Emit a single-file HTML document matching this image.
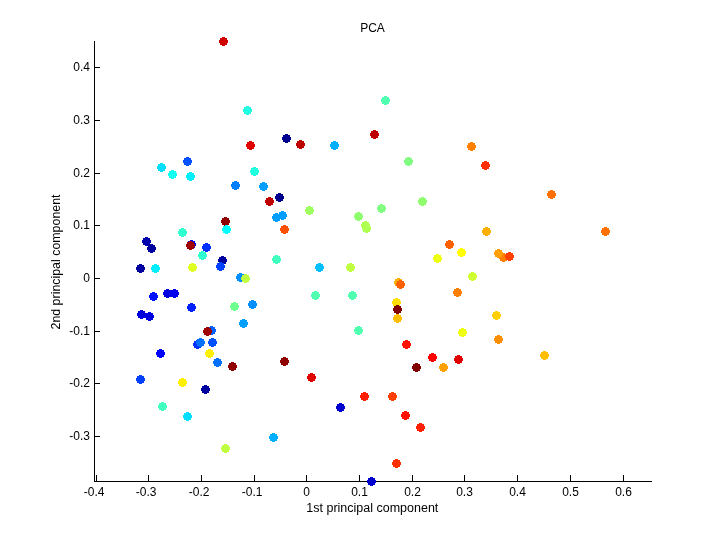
<!DOCTYPE html>
<html><head><meta charset="utf-8"><title>PCA</title>
<style>
html,body{margin:0;padding:0;background:#fff;}
body{width:720px;height:540px;overflow:hidden;}
svg{display:block;}
text{font-family:"Liberation Sans",sans-serif;font-size:12px;fill:#000;}
</style></head><body>
<svg width="720" height="540" viewBox="0 0 720 540">
<defs><g id="d" shape-rendering="crispEdges"><rect x="-4" y="-1" width="9" height="3"/><rect x="-3" y="-3" width="7" height="7"/><rect x="-1" y="-4" width="3" height="9"/></g></defs>
<rect width="720" height="540" fill="#fff"/>

<g shape-rendering="crispEdges" fill="#000">
<rect x="94" y="41" width="1" height="441"/>
<rect x="94" y="481" width="558" height="1"/>
<rect x="96" y="475" width="1" height="6"/>
<rect x="148" y="475" width="1" height="6"/>
<rect x="201" y="475" width="1" height="6"/>
<rect x="254" y="475" width="1" height="6"/>
<rect x="306" y="475" width="1" height="6"/>
<rect x="359" y="475" width="1" height="6"/>
<rect x="412" y="475" width="1" height="6"/>
<rect x="464" y="475" width="1" height="6"/>
<rect x="517" y="475" width="1" height="6"/>
<rect x="570" y="475" width="1" height="6"/>
<rect x="623" y="475" width="1" height="6"/>
<rect x="95" y="67" width="5" height="1"/>
<rect x="95" y="120" width="5" height="1"/>
<rect x="95" y="173" width="5" height="1"/>
<rect x="95" y="225" width="5" height="1"/>
<rect x="95" y="278" width="5" height="1"/>
<rect x="95" y="331" width="5" height="1"/>
<rect x="95" y="383" width="5" height="1"/>
<rect x="95" y="436" width="5" height="1"/>
</g>
<text x="94.1" y="496" text-anchor="middle">-0.4</text>
<text x="146.1" y="496" text-anchor="middle">-0.3</text>
<text x="199.1" y="496" text-anchor="middle">-0.2</text>
<text x="252.1" y="496" text-anchor="middle">-0.1</text>
<text x="306.5" y="496" text-anchor="middle">0</text>
<text x="359.5" y="496" text-anchor="middle">0.1</text>
<text x="412.5" y="496" text-anchor="middle">0.2</text>
<text x="464.5" y="496" text-anchor="middle">0.3</text>
<text x="517.5" y="496" text-anchor="middle">0.4</text>
<text x="570.5" y="496" text-anchor="middle">0.5</text>
<text x="623.5" y="496" text-anchor="middle">0.6</text>
<text x="90" y="71" text-anchor="end">0.4</text>
<text x="90" y="124" text-anchor="end">0.3</text>
<text x="90" y="177" text-anchor="end">0.2</text>
<text x="90" y="229" text-anchor="end">0.1</text>
<text x="90" y="282" text-anchor="end">0</text>
<text x="90" y="335" text-anchor="end">-0.1</text>
<text x="90" y="387" text-anchor="end">-0.2</text>
<text x="90" y="440" text-anchor="end">-0.3</text>
<text x="372.5" y="32" text-anchor="middle">PCA</text>
<text x="372.3" y="512" text-anchor="middle" style="font-size:12.5px">1st principal component</text>
<text transform="translate(59.6,262) rotate(-90)" text-anchor="middle" style="font-size:12.4px">2nd principal component</text>
<use href="#d" x="223" y="41" fill="#cf0000"/>
<use href="#d" x="247" y="110" fill="#20ffdf"/>
<use href="#d" x="385" y="100" fill="#50ffaf"/>
<use href="#d" x="250" y="145" fill="#df0000"/>
<use href="#d" x="286" y="138" fill="#00008f"/>
<use href="#d" x="300" y="144" fill="#bf0000"/>
<use href="#d" x="187" y="161" fill="#0050ff"/>
<use href="#d" x="161" y="167" fill="#00dfff"/>
<use href="#d" x="172" y="174" fill="#10ffef"/>
<use href="#d" x="190" y="176" fill="#00efff"/>
<use href="#d" x="254" y="171" fill="#20ffdf"/>
<use href="#d" x="235" y="185" fill="#0080ff"/>
<use href="#d" x="263" y="186" fill="#009fff"/>
<use href="#d" x="279" y="197" fill="#00008f"/>
<use href="#d" x="269" y="201" fill="#bf0000"/>
<use href="#d" x="282" y="215" fill="#009fff"/>
<use href="#d" x="276" y="217" fill="#009fff"/>
<use href="#d" x="284" y="229" fill="#ff5000"/>
<use href="#d" x="225" y="221" fill="#8f0000"/>
<use href="#d" x="226" y="229" fill="#00ffff"/>
<use href="#d" x="182" y="232" fill="#30ffcf"/>
<use href="#d" x="146" y="241" fill="#0000af"/>
<use href="#d" x="151" y="248" fill="#00009f"/>
<use href="#d" x="191" y="244" fill="#0000ef"/>
<use href="#d" x="190" y="245" fill="#9f0000"/>
<use href="#d" x="206" y="247" fill="#0030ff"/>
<use href="#d" x="202" y="255" fill="#30ffcf"/>
<use href="#d" x="222" y="260" fill="#00009f"/>
<use href="#d" x="220" y="266" fill="#0040ff"/>
<use href="#d" x="276" y="259" fill="#40ffbf"/>
<use href="#d" x="140" y="268" fill="#00009f"/>
<use href="#d" x="155" y="268" fill="#00efff"/>
<use href="#d" x="192" y="267" fill="#dfff20"/>
<use href="#d" x="240" y="277" fill="#008fff"/>
<use href="#d" x="245" y="278" fill="#bfff40"/>
<use href="#d" x="153" y="296" fill="#0010ff"/>
<use href="#d" x="167" y="293" fill="#0000df"/>
<use href="#d" x="174" y="293" fill="#0000ef"/>
<use href="#d" x="191" y="307" fill="#0020ff"/>
<use href="#d" x="234" y="306" fill="#70ff8f"/>
<use href="#d" x="252" y="304" fill="#008fff"/>
<use href="#d" x="141" y="314" fill="#0000df"/>
<use href="#d" x="149" y="316" fill="#0000df"/>
<use href="#d" x="243" y="323" fill="#009fff"/>
<use href="#d" x="211" y="330" fill="#0060ff"/>
<use href="#d" x="207" y="331" fill="#9f0000"/>
<use href="#d" x="212" y="342" fill="#0050ff"/>
<use href="#d" x="197" y="344" fill="#0030ff"/>
<use href="#d" x="200" y="342" fill="#0070ff"/>
<use href="#d" x="209" y="353" fill="#ffef00"/>
<use href="#d" x="160" y="353" fill="#0000ff"/>
<use href="#d" x="217" y="362" fill="#0070ff"/>
<use href="#d" x="232" y="366" fill="#8f0000"/>
<use href="#d" x="284" y="361" fill="#8f0000"/>
<use href="#d" x="140" y="379" fill="#0040ff"/>
<use href="#d" x="182" y="382" fill="#ffef00"/>
<use href="#d" x="205" y="389" fill="#00009f"/>
<use href="#d" x="162" y="406" fill="#40ffbf"/>
<use href="#d" x="187" y="416" fill="#00dfff"/>
<use href="#d" x="273" y="437" fill="#00afff"/>
<use href="#d" x="225" y="448" fill="#bfff40"/>
<use href="#d" x="374" y="134" fill="#bf0000"/>
<use href="#d" x="334" y="145" fill="#00afff"/>
<use href="#d" x="408" y="161" fill="#80ff80"/>
<use href="#d" x="422" y="201" fill="#8fff70"/>
<use href="#d" x="381" y="208" fill="#80ff80"/>
<use href="#d" x="309" y="210" fill="#9fff60"/>
<use href="#d" x="358" y="216" fill="#8fff70"/>
<use href="#d" x="365" y="225" fill="#afff50"/>
<use href="#d" x="366" y="228" fill="#afff50"/>
<use href="#d" x="449" y="244" fill="#ff6000"/>
<use href="#d" x="461" y="252" fill="#ffff00"/>
<use href="#d" x="437" y="258" fill="#efff10"/>
<use href="#d" x="319" y="267" fill="#00bfff"/>
<use href="#d" x="350" y="267" fill="#bfff40"/>
<use href="#d" x="398" y="282" fill="#ffaf00"/>
<use href="#d" x="400" y="284" fill="#ff6000"/>
<use href="#d" x="457" y="292" fill="#ff8000"/>
<use href="#d" x="315" y="295" fill="#50ffaf"/>
<use href="#d" x="352" y="295" fill="#50ffaf"/>
<use href="#d" x="396" y="302" fill="#ffdf00"/>
<use href="#d" x="397" y="318" fill="#ffbf00"/>
<use href="#d" x="397" y="309" fill="#800000"/>
<use href="#d" x="358" y="330" fill="#50ffaf"/>
<use href="#d" x="462" y="332" fill="#efff10"/>
<use href="#d" x="406" y="344" fill="#ff1000"/>
<use href="#d" x="432" y="357" fill="#ff0000"/>
<use href="#d" x="458" y="359" fill="#df0000"/>
<use href="#d" x="416" y="367" fill="#800000"/>
<use href="#d" x="443" y="367" fill="#ff9f00"/>
<use href="#d" x="311" y="377" fill="#df0000"/>
<use href="#d" x="364" y="396" fill="#ff2000"/>
<use href="#d" x="392" y="396" fill="#ff4000"/>
<use href="#d" x="340" y="407" fill="#0000cf"/>
<use href="#d" x="405" y="415" fill="#ff1000"/>
<use href="#d" x="420" y="427" fill="#ff2000"/>
<use href="#d" x="396" y="463" fill="#ff3000"/>
<use href="#d" x="371" y="481" fill="#0000cf"/>
<use href="#d" x="471" y="146" fill="#ff8000"/>
<use href="#d" x="485" y="165" fill="#ff3000"/>
<use href="#d" x="551" y="194" fill="#ff7000"/>
<use href="#d" x="486" y="231" fill="#ffaf00"/>
<use href="#d" x="605" y="231" fill="#ff7000"/>
<use href="#d" x="503" y="257" fill="#ff8000"/>
<use href="#d" x="498" y="253" fill="#ff9f00"/>
<use href="#d" x="509" y="256" fill="#ff4000"/>
<use href="#d" x="472" y="276" fill="#cfff30"/>
<use href="#d" x="496" y="315" fill="#ffcf00"/>
<use href="#d" x="498" y="339" fill="#ff8f00"/>
<use href="#d" x="544" y="355" fill="#ffbf00"/>
</svg></body></html>
